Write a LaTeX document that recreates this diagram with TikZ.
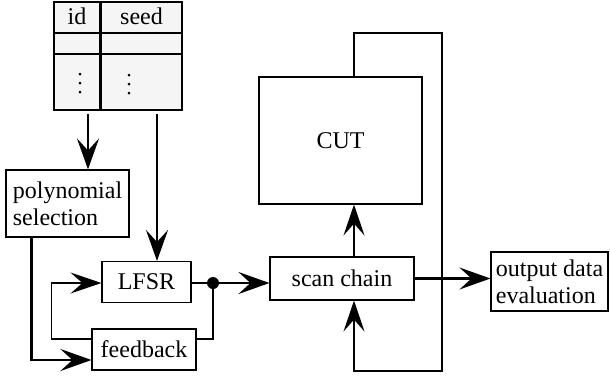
\documentclass[tikz,border=0pt]{standalone}
\usepackage{fontspec}
\setmainfont{Liberation Serif}
\usetikzlibrary{arrows.meta}
\begin{document}
\begin{tikzpicture}[x=1pt,y=-1pt,
  font=\fontsize{24}{27}\selectfont,
  box/.style={draw, line width=1.1pt, inner sep=0pt},
  arr/.style={line width=2.3pt, -{Stealth[length=31pt,width=22pt,inset=12pt]}},
  thinarr/.style={line width=1.3pt, -{Stealth[length=31pt,width=21pt,inset=12pt]}},
  thinline/.style={line width=1.3pt},
  cell/.style={draw, line width=1.1pt, fill=black!4},
  rowline/.style={line width=1.6pt}]
\useasboundingbox (0,0) rectangle (610,376);
% table
\draw[cell] (54,2) rectangle (100,110);
\draw[cell] (101.5,2) rectangle (182,110);
\draw[rowline] (54,33) -- (182,33);
\draw[rowline] (54,54) -- (182,54);
\node (idh) at (77,16) {id};
\node (seedh) at (141.5,16) {seed};
\foreach \yy in {74,83,92} {
  \fill (80,\yy) circle (1.5);
  \fill (129,\yy+1) circle (1.5);
}
\coordinate (idb) at (88,114);
\coordinate (seedb) at (157,114);
% boxes
\node[box, minimum width=123pt, minimum height=67pt, align=left] (poly) at (67.5,203.5) {polynomial\\selection};
\node[box, minimum width=89pt, minimum height=41pt] (lfsr) at (146.5,282) {LFSR};
\node[box, minimum width=104pt, minimum height=41pt] (fb) at (144,349.5) {feedback};
\node[box, minimum width=144pt, minimum height=43pt] (scan) at (342,278.5) {scan chain};
\node[box, minimum width=163pt, minimum height=127pt] (cut) at (340.5,140.5) {CUT};
\node[box, minimum width=117pt, minimum height=59pt, align=left] (out) at (549.5,281.5) {output data\\evaluation};
% connectors
\draw[arr] (idb) -- (idb |- poly.north);
\draw[arr] (seedb) -- (seedb |- lfsr.north);
\coordinate (dot) at (213,283);
\draw[arr] (lfsr.east |- dot) -- (dot) -- (dot -| scan.west);
\fill (dot) circle (6);
\draw[thinline] (dot) |- ([yshift=10.5pt]fb.east);
\draw[thinarr] ([yshift=10.5pt]fb.west) -- ++(-40,0) |- (lfsr.west |- dot);
\draw[arr] ([xshift=26pt]poly.south west) |- ([yshift=-10.5pt]fb.west);
\coordinate (scn) at (354,257);
\draw[thinarr] ([xshift=12pt]scan.north) -- (scn |- cut.south);
\coordinate (lt) at (442,33);
\coordinate (lb) at (442,371);
\draw[thinarr] (scn |- cut.north) |- (lt) -- (lb) -| ([xshift=12pt]scan.south);
\draw[arr] (scan.east) -- (out.west |- scan.east);
\end{tikzpicture}
\end{document}
